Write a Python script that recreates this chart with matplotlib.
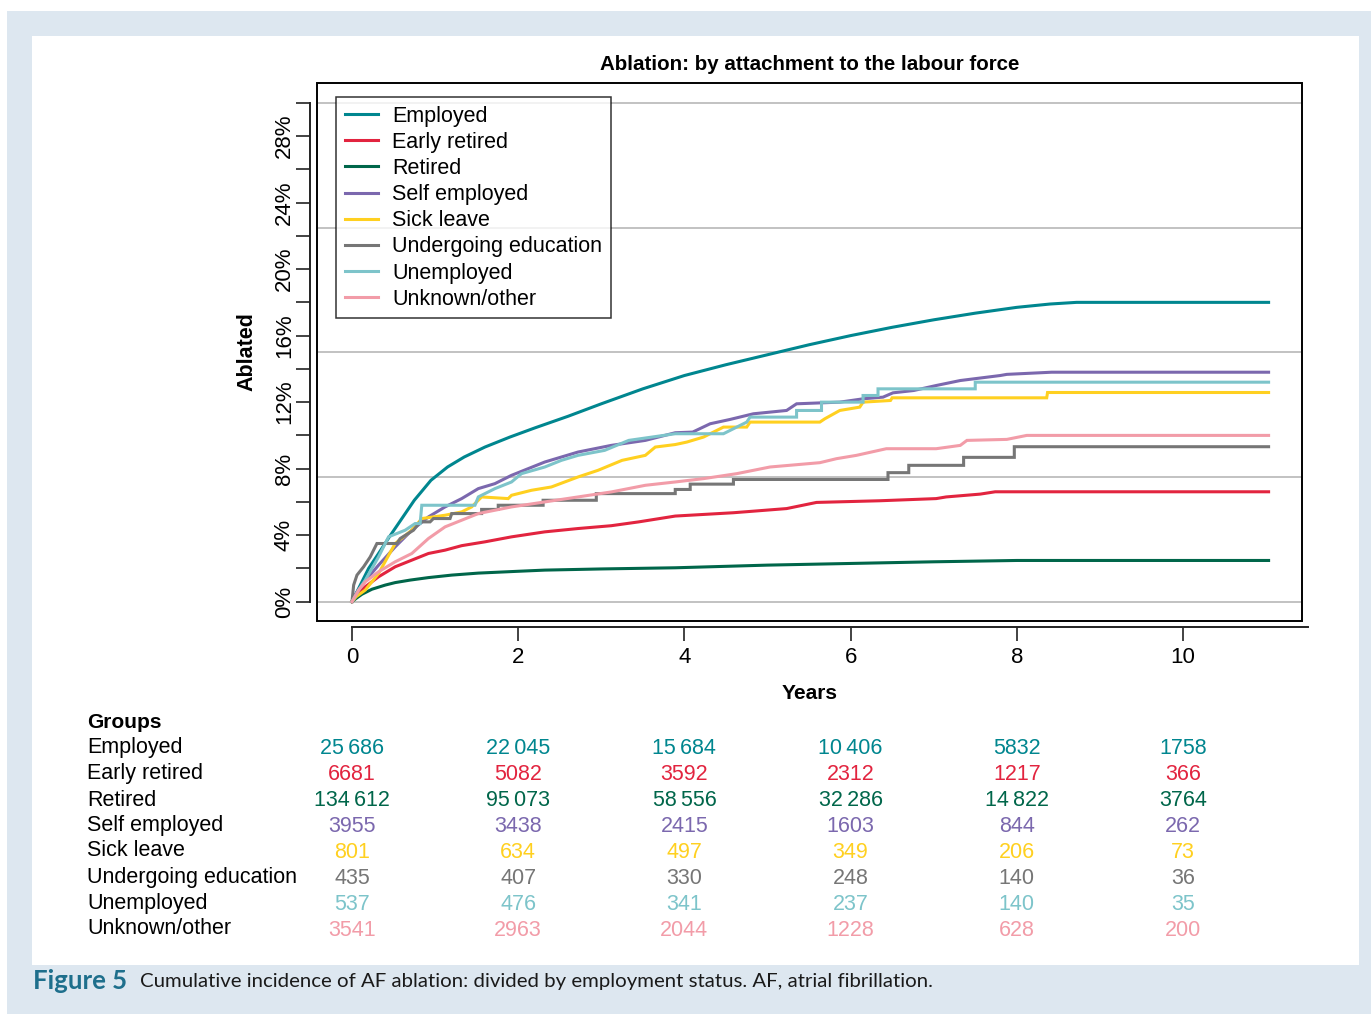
import matplotlib
matplotlib.use("Agg")
import matplotlib.pyplot as plt
import matplotlib.transforms as mtransforms
from matplotlib.patches import Rectangle

plt.rcParams['font.family'] = ['Liberation Sans', 'DejaVu Sans']

# ---- data (years, cumulative % ablated) ----
groups = ['Employed', 'Early retired', 'Retired', 'Self employed', 'Sick leave',
          'Undergoing education', 'Unemployed', 'Unknown/other']
colors = ['#00868f', '#e2243f', '#00664a', '#7b68ae', '#ffd020',
          '#767676', '#7dc4ca', '#f29ca8']

employed_t = [0, 0.1, 0.2, 0.32, 0.45, 0.6, 0.75, 0.95, 1.15, 1.35, 1.6, 1.9, 2.2, 2.6,
              3.0, 3.5, 4.0, 4.5, 5.0, 5.5, 6.0, 6.5, 7.0, 7.5, 8.0, 8.4, 8.72, 11.03]
employed_y = [0, 1.0, 2.0, 2.9, 3.9, 5.0, 6.1, 7.3, 8.1, 8.7, 9.3, 9.9, 10.45, 11.15,
              11.9, 12.8, 13.6, 14.25, 14.85, 15.45, 16.0, 16.5, 16.95, 17.35, 17.7, 17.9,
              18.0, 18.0]

early_t = [0, 0.05, 0.16, 0.32, 0.52, 0.72, 0.92, 1.12, 1.32, 1.6, 1.92, 2.32, 2.72, 3.12,
           3.45, 3.89, 4.59, 5.23, 5.59, 6.35, 7.03, 7.15, 7.56, 7.74, 11.03]
early_y = [0, 0.4, 0.9, 1.5, 2.1, 2.5, 2.9, 3.1, 3.37, 3.6, 3.9, 4.2, 4.4, 4.57,
           4.8, 5.15, 5.35, 5.6, 5.97, 6.07, 6.2, 6.3, 6.47, 6.61, 6.61]

retired_t = [0, 0.05, 0.12, 0.24, 0.4, 0.52, 0.7, 0.92, 1.2, 1.52, 2.0, 2.32, 3.0, 3.89,
             5.0, 6.0, 7.0, 8.0, 11.03]
retired_y = [0, 0.2, 0.45, 0.75, 1.0, 1.15, 1.3, 1.45, 1.6, 1.72, 1.83, 1.9, 1.97, 2.04,
             2.2, 2.3, 2.4, 2.48, 2.48]

self_t = [0, 0.05, 0.15, 0.32, 0.52, 0.72, 0.92, 1.12, 1.32, 1.52, 1.72, 1.92, 2.12, 2.32,
          2.72, 3.12, 3.53, 3.89, 4.1, 4.31, 4.55, 4.83, 5.23, 5.35, 5.87, 6.15, 6.39,
          6.51, 6.76, 7.03, 7.32, 7.8, 7.88, 8.42, 11.03]
self_y = [0, 0.5, 1.2, 2.2, 3.3, 4.3, 5.1, 5.7, 6.2, 6.8, 7.1, 7.6, 8.0, 8.4,
          9.0, 9.4, 9.7, 10.16, 10.2, 10.7, 10.96, 11.3, 11.5, 11.9, 12.0, 12.2, 12.3,
          12.56, 12.7, 13.0, 13.3, 13.6, 13.67, 13.8, 13.8]

sick_t = [0, 0.05, 0.16, 0.32, 0.52, 0.72, 0.84, 1.12, 1.32, 1.44, 1.56, 1.88, 1.92, 2.16,
          2.4, 2.72, 2.96, 3.25, 3.53, 3.65, 3.89, 4.03, 4.23, 4.39, 4.47, 4.75, 4.79,
          5.63, 5.69, 5.87, 6.11, 6.15, 6.48, 6.5, 8.36, 8.37, 11.03]
sick_y = [0, 0.3, 0.7, 1.7, 3.5, 4.3, 5.0, 5.2, 5.4, 5.7, 6.3, 6.2, 6.4, 6.7,
          6.9, 7.5, 7.9, 8.5, 8.8, 9.3, 9.45, 9.6, 9.9, 10.3, 10.5, 10.5, 10.8,
          10.8, 11.0, 11.5, 11.7, 12.0, 12.1, 12.26, 12.26, 12.58, 12.58]

edu_t = [0, 0.02, 0.06, 0.14, 0.22, 0.3, 0.54, 0.58, 0.74, 0.82, 0.94, 0.98, 1.18, 1.2,
         1.56, 1.56, 1.76, 1.76, 2.3, 2.3, 2.94, 2.94, 3.89, 3.89, 4.07, 4.07, 4.59, 4.59,
         6.45, 6.45, 6.7, 6.7, 7.36, 7.36, 7.97, 7.97, 11.03]
edu_y = [0, 1.0, 1.6, 2.1, 2.7, 3.5, 3.5, 3.8, 4.3, 4.8, 4.8, 5.0, 5.0, 5.3,
         5.3, 5.55, 5.55, 5.8, 5.8, 6.1, 6.1, 6.5, 6.5, 6.75, 6.75, 7.07, 7.07, 7.35,
         7.35, 7.76, 7.76, 8.2, 8.2, 8.68, 8.68, 9.32, 9.32]

unemp_t = [0, 0.08, 0.16, 0.32, 0.44, 0.64, 0.76, 0.82, 0.84, 1.48, 1.52, 1.72, 1.92, 2.04,
           2.32, 2.52, 2.72, 3.04, 3.33, 3.89, 4.47, 4.75, 4.79, 5.35, 5.35, 5.65, 5.65,
           6.15, 6.15, 6.33, 6.33, 7.5, 7.5, 11.03]
unemp_y = [0, 0.7, 1.3, 2.7, 3.9, 4.3, 4.7, 4.7, 5.8, 5.8, 6.3, 6.8, 7.2, 7.7,
           8.1, 8.5, 8.8, 9.1, 9.7, 10.1, 10.1, 10.8, 11.1, 11.1, 11.5, 11.5, 12.0,
           12.0, 12.4, 12.4, 12.8, 12.8, 13.2, 13.2]

unknown_t = [0, 0.08, 0.16, 0.32, 0.52, 0.72, 0.92, 1.12, 1.32, 1.52, 1.72, 1.92, 2.32,
             2.72, 3.12, 3.53, 3.89, 4.23, 4.63, 5.03, 5.63, 5.83, 6.07, 6.43, 7.03, 7.32,
             7.4, 7.88, 8.12, 11.03]
unknown_y = [0, 0.7, 1.2, 1.8, 2.4, 2.9, 3.8, 4.5, 4.9, 5.3, 5.5, 5.7, 6.0,
             6.3, 6.6, 7.0, 7.2, 7.4, 7.7, 8.1, 8.36, 8.6, 8.8, 9.2, 9.2, 9.4,
             9.7, 9.76, 10.0, 10.0]

curves_t = [employed_t, early_t, retired_t, self_t, sick_t, edu_t, unemp_t, unknown_t]
curves_y = [employed_y, early_y, retired_y, self_y, sick_y, edu_y, unemp_y, unknown_y]

# numbers at risk at 0, 2, 4, 6, 8, 10 years
risk_times = [0, 2, 4, 6, 8, 10]
risk_employed = [25686, 22045, 15684, 10406, 5832, 1758]
risk_early = [6681, 5082, 3592, 2312, 1217, 366]
risk_retired = [134612, 95073, 58556, 32286, 14822, 3764]
risk_self = [3955, 3438, 2415, 1603, 844, 262]
risk_sick = [801, 634, 497, 349, 206, 73]
risk_edu = [435, 407, 330, 248, 140, 36]
risk_unemp = [537, 476, 341, 237, 140, 35]
risk_unknown = [3541, 2963, 2044, 1228, 628, 200]
risk_rows = [risk_employed, risk_early, risk_retired, risk_self, risk_sick,
             risk_edu, risk_unemp, risk_unknown]

y_ticks = list(range(0, 31, 2))
y_labels = [f'{v}%' if v % 4 == 0 and v < 30 else '' for v in y_ticks]
grid_levels = [0, 7.5, 15, 22.5, 30]


def fmt(n):
    s = f'{n:,}'
    return s.replace(',', '\u2009') if n >= 10000 else str(n)


W, H = 1371, 1014
fig = plt.figure(figsize=(W / 100, H / 100), dpi=100)

# page background + white panel
fig.patches.append(Rectangle((7 / W, 0), 1 - 7 / W, 1 - 11 / H, transform=fig.transFigure,
                             facecolor='#dde7f0', edgecolor='none', zorder=-10))
fig.patches.append(Rectangle((32 / W, 1 - 965 / H), (1359 - 32) / W, (965 - 36) / H,
                             transform=fig.transFigure, facecolor='white',
                             edgecolor='none', zorder=-9))

ax = fig.add_axes([317 / W, 1 - 621 / H, (1302 - 317) / W, (621 - 83) / H])
ax.set_facecolor('none')
ax.set_xlim(-0.421, 11.432)
ax.set_ylim(-1.16, 31.19)

for g in grid_levels:
    ax.axhline(g, color='#bdbdbd', lw=1.3, zorder=1)

for name, col, t, y in zip(groups, colors, curves_t, curves_y):
    ax.plot(t, y, color=col, lw=2.2, label=name, zorder=3, solid_joinstyle='miter')

# box
ax.add_patch(Rectangle((0, 0), 1, 1, transform=ax.transAxes, fill=False,
                       edgecolor='black', lw=1.4, clip_on=False, zorder=5))
ax.spines['top'].set_visible(False)
ax.spines['right'].set_visible(False)
ax.spines['left'].set_position(('outward', 5))
ax.spines['left'].set_bounds(0, 30)
ax.spines['bottom'].set_position(('outward', 4))
ax.spines['bottom'].set_bounds(0, 11.5)
for s in ['left', 'bottom']:
    ax.spines[s].set_linewidth(1.4)
    ax.spines[s].set_color('#222222')

ax.set_yticks(y_ticks)
ax.set_yticklabels(y_labels, rotation=90, va='center')
ax.set_xticks(risk_times)
ax.tick_params(axis='both', length=10, width=1.2, color='#222222', labelsize=16)
ax.tick_params(axis='y', pad=1)
ax.tick_params(axis='x', pad=5)

ax.set_title('Ablation: by attachment to the labour force', fontsize=14.8,
             fontweight='bold', pad=9)
ax.set_xlabel('Years', fontsize=15, fontweight='bold', labelpad=11)
fig.text(247 / W, 1 - 352 / H, 'Ablated', rotation=90, fontsize=15.5,
         fontweight='bold', ha='center', va='center')

leg = ax.legend(loc='upper left', bbox_to_anchor=((336 - 317) / 985, (621 - 97) / 538),
                fontsize=15.5, frameon=True, fancybox=False, handlelength=1.55,
                handletextpad=0.65, labelspacing=0.24, borderpad=0.4, borderaxespad=0)
leg.get_frame().set_edgecolor('black')
leg.get_frame().set_linewidth(1.1)
leg.set_zorder(6)

# numbers at risk table
tr = mtransforms.blended_transform_factory(ax.transData, fig.transFigure)
fig.text(87 / W, 1 - 722 / H, 'Groups', fontsize=15, fontweight='bold', va='center')
row_y = [748, 774, 800, 825, 851, 877, 903, 929]
for name, col, vals, py in zip(groups, colors, risk_rows, row_y):
    fig.text(87 / W, 1 - py / H, name, fontsize=15.5, va='center')
    for t, v in zip(risk_times, vals):
        ax.text(t, 1 - (py + 1) / H, fmt(v), transform=tr, color=col, fontsize=15.5,
                ha='center', va='center', clip_on=False)

# caption
fig.text(33 / W, 1 - 981 / H, 'Figure 5', fontsize=18.5, fontweight='bold',
         color='#1e6f8c', va='center', family=['Lato', 'DejaVu Sans'])
fig.text(140 / W, 1 - 981 / H,
         'Cumulative incidence of AF ablation: divided by employment status. AF, atrial fibrillation.',
         fontsize=14.7, va='center', family=['Lato', 'DejaVu Sans'], color='#1a1a1a')

fig.savefig('out.png', dpi=100)
